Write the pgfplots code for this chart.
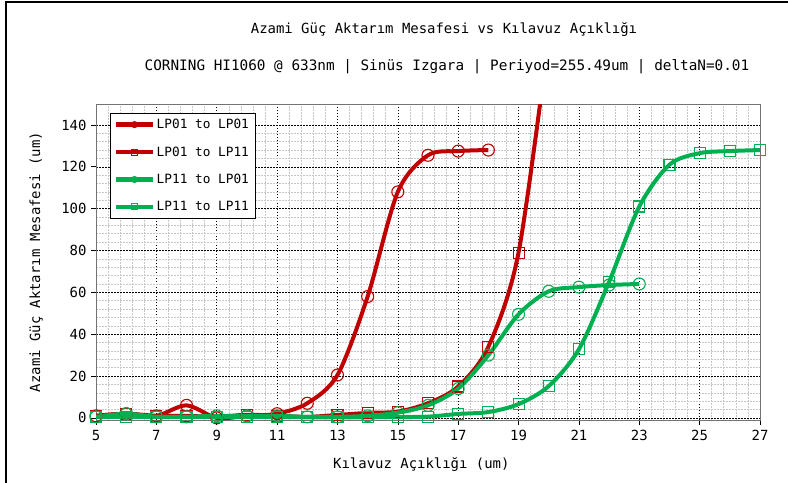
\documentclass[border=0pt]{standalone}
\usepackage{fontspec}
\setmainfont{DejaVu Sans Mono}
\usepackage{pgfplots}
\pgfplotsset{compat=1.18}
\definecolor{cRed}{HTML}{C00000}
\definecolor{cGreen}{HTML}{00B050}
\newcommand\setfs[1]{\fontsize{#1}{#1}\selectfont}

\begin{document}
\begin{tikzpicture}
\useasboundingbox (0bp,0bp) rectangle (788bp,-483bp);
\draw[line width=2.2bp] (6bp,-483bp) -- (6bp,-2bp) -- (788bp,-2bp);
\node[font=\setfs{14}] at (444bp,-30bp) {Azami Güç Aktarım Mesafesi vs Kılavuz Açıklığı};
\node[font=\setfs{14.4}] at (447bp,-67bp) {CORNING HI1060 @ 633nm | Sinüs Izgara | Periyod=255.49um | deltaN=0.01};
\begin{axis}[
  at={(96bp,-420bp)}, anchor=south west,
  scale only axis, width=664bp, height=316bp,
  xmin=5, xmax=27, ymin=-1, ymax=150,
  xtick={5,7,...,27}, ytick={0,20,...,140},
  minor x tick num=4, minor y tick num=4,
  grid=both,
  major grid style={black, line width=0.5bp, dash pattern=on 1.5bp off 1.5bp},
  minor grid style={black!22, line width=0.6bp, dash pattern=on 2bp off 1bp},
  axis line style={black!55, line width=0.8bp},
  tick align=outside, major tick length=5bp, minor tick length=0pt,
  tick style={black, line width=0.6bp},
  xtick pos=bottom, ytick pos=left,
  /pgf/number format/assume math mode=true,
  tick label style={font=\setfs{14}},
  xticklabel style={yshift=-2bp},
  yticklabel style={xshift=-1bp},
  xlabel={Kılavuz Açıklığı (um)},
  ylabel={Azami Güç Aktarım Mesafesi (um)},
  label style={font=\setfs{14}},
  xlabel style={at={(axis description cs:0.49,-0.14)}, anchor=center},
  ylabel style={at={(axis description cs:-0.09,0.5)}, anchor=center},
  legend style={at={(axis description cs:0.021,0.972)}, anchor=north west,
    draw=black, line width=0.6bp, font=\setfs{12.8}, fill=white,
    row sep=12.5bp, inner sep=4bp},
  legend cell align=left,
  legend image code/.code={\draw[#1, line width=4.5bp, mark size=3bp, mark repeat=2, mark phase=2]
    plot coordinates {(0bp,0bp) (18bp,0bp) (36bp,0bp)};},
  every axis plot/.append style={line width=4bp, smooth},
]
\addplot[cRed, mark=o, mark size=6bp, mark options={line width=1.1bp}] coordinates {
(5,1) (6,2) (7,1) (8,6) (9,0) (10,1) (11,2) (12,7) (13,20.5) (14,58)
(15,108) (16,125.5) (17,127.5) (18,128)
};
\addlegendentry{LP01 to LP01}
\addplot[cRed, mark=square, mark size=5.5bp, mark options={line width=1.1bp}] coordinates {
(5,1) (6,2) (7,1) (8,1) (9,0.5) (10,1.5) (11,1) (12,0.5) (13,1.4) (14,2.4)
(15,3) (16,7) (17,15) (18,34) (19,79) (20,182)
};
\addlegendentry{LP01 to LP11}
\addplot[cGreen, mark=o, mark size=6bp, mark options={line width=1.1bp}] coordinates {
(5,0.5) (6,2) (7,0.5) (8,0.5) (9,1) (10,1) (11,1) (12,0.5) (13,0.5) (14,1)
(15,2.5) (16,6) (17,14) (18,30) (19,49.5) (20,60.5) (21,62.5) (22,63.5) (23,64)
};
\addlegendentry{LP11 to LP01}
\addplot[cGreen, mark=square, mark size=5.5bp, mark options={line width=1.1bp}] coordinates {
(5,0.5) (6,0.5) (7,0.5) (8,0.5) (9,0.5) (10,0.5) (11,0.5) (12,0.3) (13,0.3) (14,0.3)
(15,0.4) (16,0.6) (17,1.9) (18,2.8) (19,6.6) (20,15.2) (21,32.8) (22,65)
(23,101) (24,121) (25,126.5) (26,127.5) (27,128)
};
\addlegendentry{LP11 to LP11}
\end{axis}
\end{tikzpicture}
\end{document}
